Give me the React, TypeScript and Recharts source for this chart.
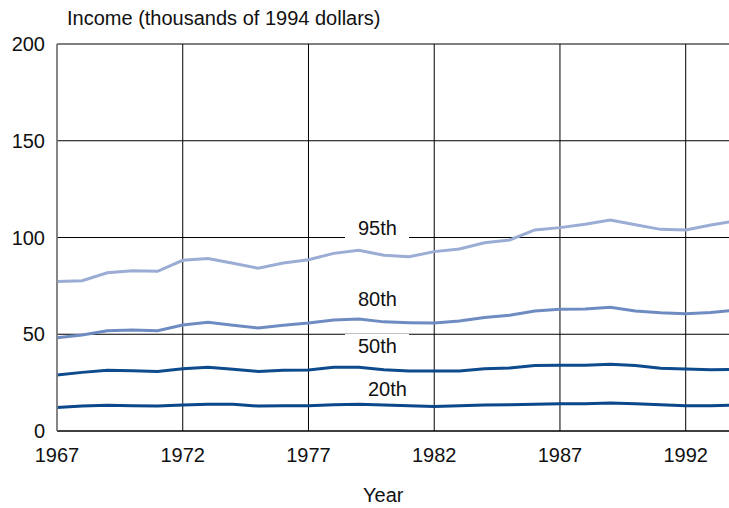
import { CartesianGrid, Line, LineChart, XAxis, YAxis } from "recharts";

const years = [
  1967, 1968, 1969, 1970, 1971, 1972, 1973, 1974, 1975, 1976, 1977, 1978, 1979, 1980,
  1981, 1982, 1983, 1984, 1985, 1986, 1987, 1988, 1989, 1990, 1991, 1992, 1993, 1994,
];
const p95 = [
  77.2, 77.7, 81.8, 82.8, 82.5, 88.2, 89.1, 86.7, 84.1, 86.8, 88.5, 91.8, 93.4, 90.8,
  90.1, 92.7, 94.1, 97.3, 98.7, 103.9, 105.1, 106.8, 109, 106.6, 104.2, 103.9, 106.5, 108.6,
];
const p80 = [
  48.2, 49.6, 51.8, 52.2, 51.8, 54.8, 56.2, 54.6, 53.2, 54.6, 55.8, 57.4, 57.9, 56.4,
  56, 55.8, 56.8, 58.7, 59.8, 62, 62.9, 63, 63.9, 62, 61.1, 60.6, 61.3, 62.4,
];
const p50 = [
  28.9, 30.3, 31.4, 31.2, 30.8, 32.2, 32.9, 31.9, 30.8, 31.4, 31.5, 32.9, 32.9, 31.7,
  31, 31, 31, 32.2, 32.6, 33.8, 34, 34, 34.5, 33.8, 32.4, 32, 31.7, 31.9,
];
const p20 = [
  12.1, 12.9, 13.3, 13.1, 12.9, 13.4, 13.8, 13.8, 12.9, 13.1, 13.1, 13.6, 13.8, 13.4,
  13.1, 12.7, 13.1, 13.4, 13.6, 13.8, 14.1, 14.1, 14.5, 14.1, 13.6, 13.1, 13.1, 13.3,
];
const xTicks = [1967, 1972, 1977, 1982, 1987, 1992];
const yTicks = [0, 50, 100, 150, 200];

const data = years.map((year, i) => ({
  year,
  p95: p95[i],
  p80: p80[i],
  p50: p50[i],
  p20: p20[i],
}));

const font = "'Liberation Sans', Arial, sans-serif";

function Tag({ text, left, top }: { text: string; left: number; top: number }) {
  return (
    <div
      style={{
        position: "absolute",
        left,
        top,
        width: 64,
        height: 24,
        paddingLeft: 13,
        boxSizing: "border-box",
        background: "#fff",
        fontSize: 20,
        lineHeight: "24px",
        color: "#111",
        textAlign: "left",
        whiteSpace: "nowrap",
      }}
    >
      {text}
    </div>
  );
}

export default function App() {
  return (
    <div
      style={{
        position: "absolute",
        left: 0,
        top: 0,
        width: 729,
        height: 508,
        overflow: "hidden",
        background: "#fff",
        fontFamily: font,
      }}
    >
      <div style={{ position: "absolute", left: 67, top: 7, fontSize: 20, color: "#111" }}>
        Income (thousands of 1994 dollars)
      </div>
      <LineChart
        width={740}
        height={508}
        data={data}
        margin={{ top: 44, right: 4, left: 0, bottom: 0 }}
        style={{ fontFamily: font }}
      >
        <CartesianGrid stroke="#000" strokeWidth={1} />
        <XAxis
          dataKey="year"
          type="number"
          domain={[1967, 1994]}
          ticks={xTicks}
          height={77}
          axisLine={{ stroke: "#000" }}
          tickLine={false}
          tickMargin={11}
          tick={{ fill: "#111", fontSize: 20 }}
        />
        <YAxis
          width={57}
          domain={[0, 200]}
          ticks={yTicks}
          axisLine={{ stroke: "#888", strokeWidth: 1.5 }}
          tickLine={false}
          tickMargin={6}
          tick={{ fill: "#111", fontSize: 20 }}
        />
        <Line dataKey="p95" stroke="#9badd4" strokeWidth={3} dot={false} isAnimationActive={false} />
        <Line dataKey="p80" stroke="#6f8cc2" strokeWidth={3} dot={false} isAnimationActive={false} />
        <Line dataKey="p50" stroke="#0d4b8c" strokeWidth={3} dot={false} isAnimationActive={false} />
        <Line dataKey="p20" stroke="#0b478a" strokeWidth={3} dot={false} isAnimationActive={false} />
      </LineChart>
      <Tag text="95th" left={345} top={216} />
      <Tag text="80th" left={345} top={287} />
      <Tag text="50th" left={345} top={334} />
      <div
        style={{ position: "absolute", left: 368, top: 377, fontSize: 20, lineHeight: "24px", color: "#111" }}
      >
        20th
      </div>
      <div style={{ position: "absolute", left: 363, top: 484, fontSize: 20, color: "#111" }}>Year</div>
    </div>
  );
}
